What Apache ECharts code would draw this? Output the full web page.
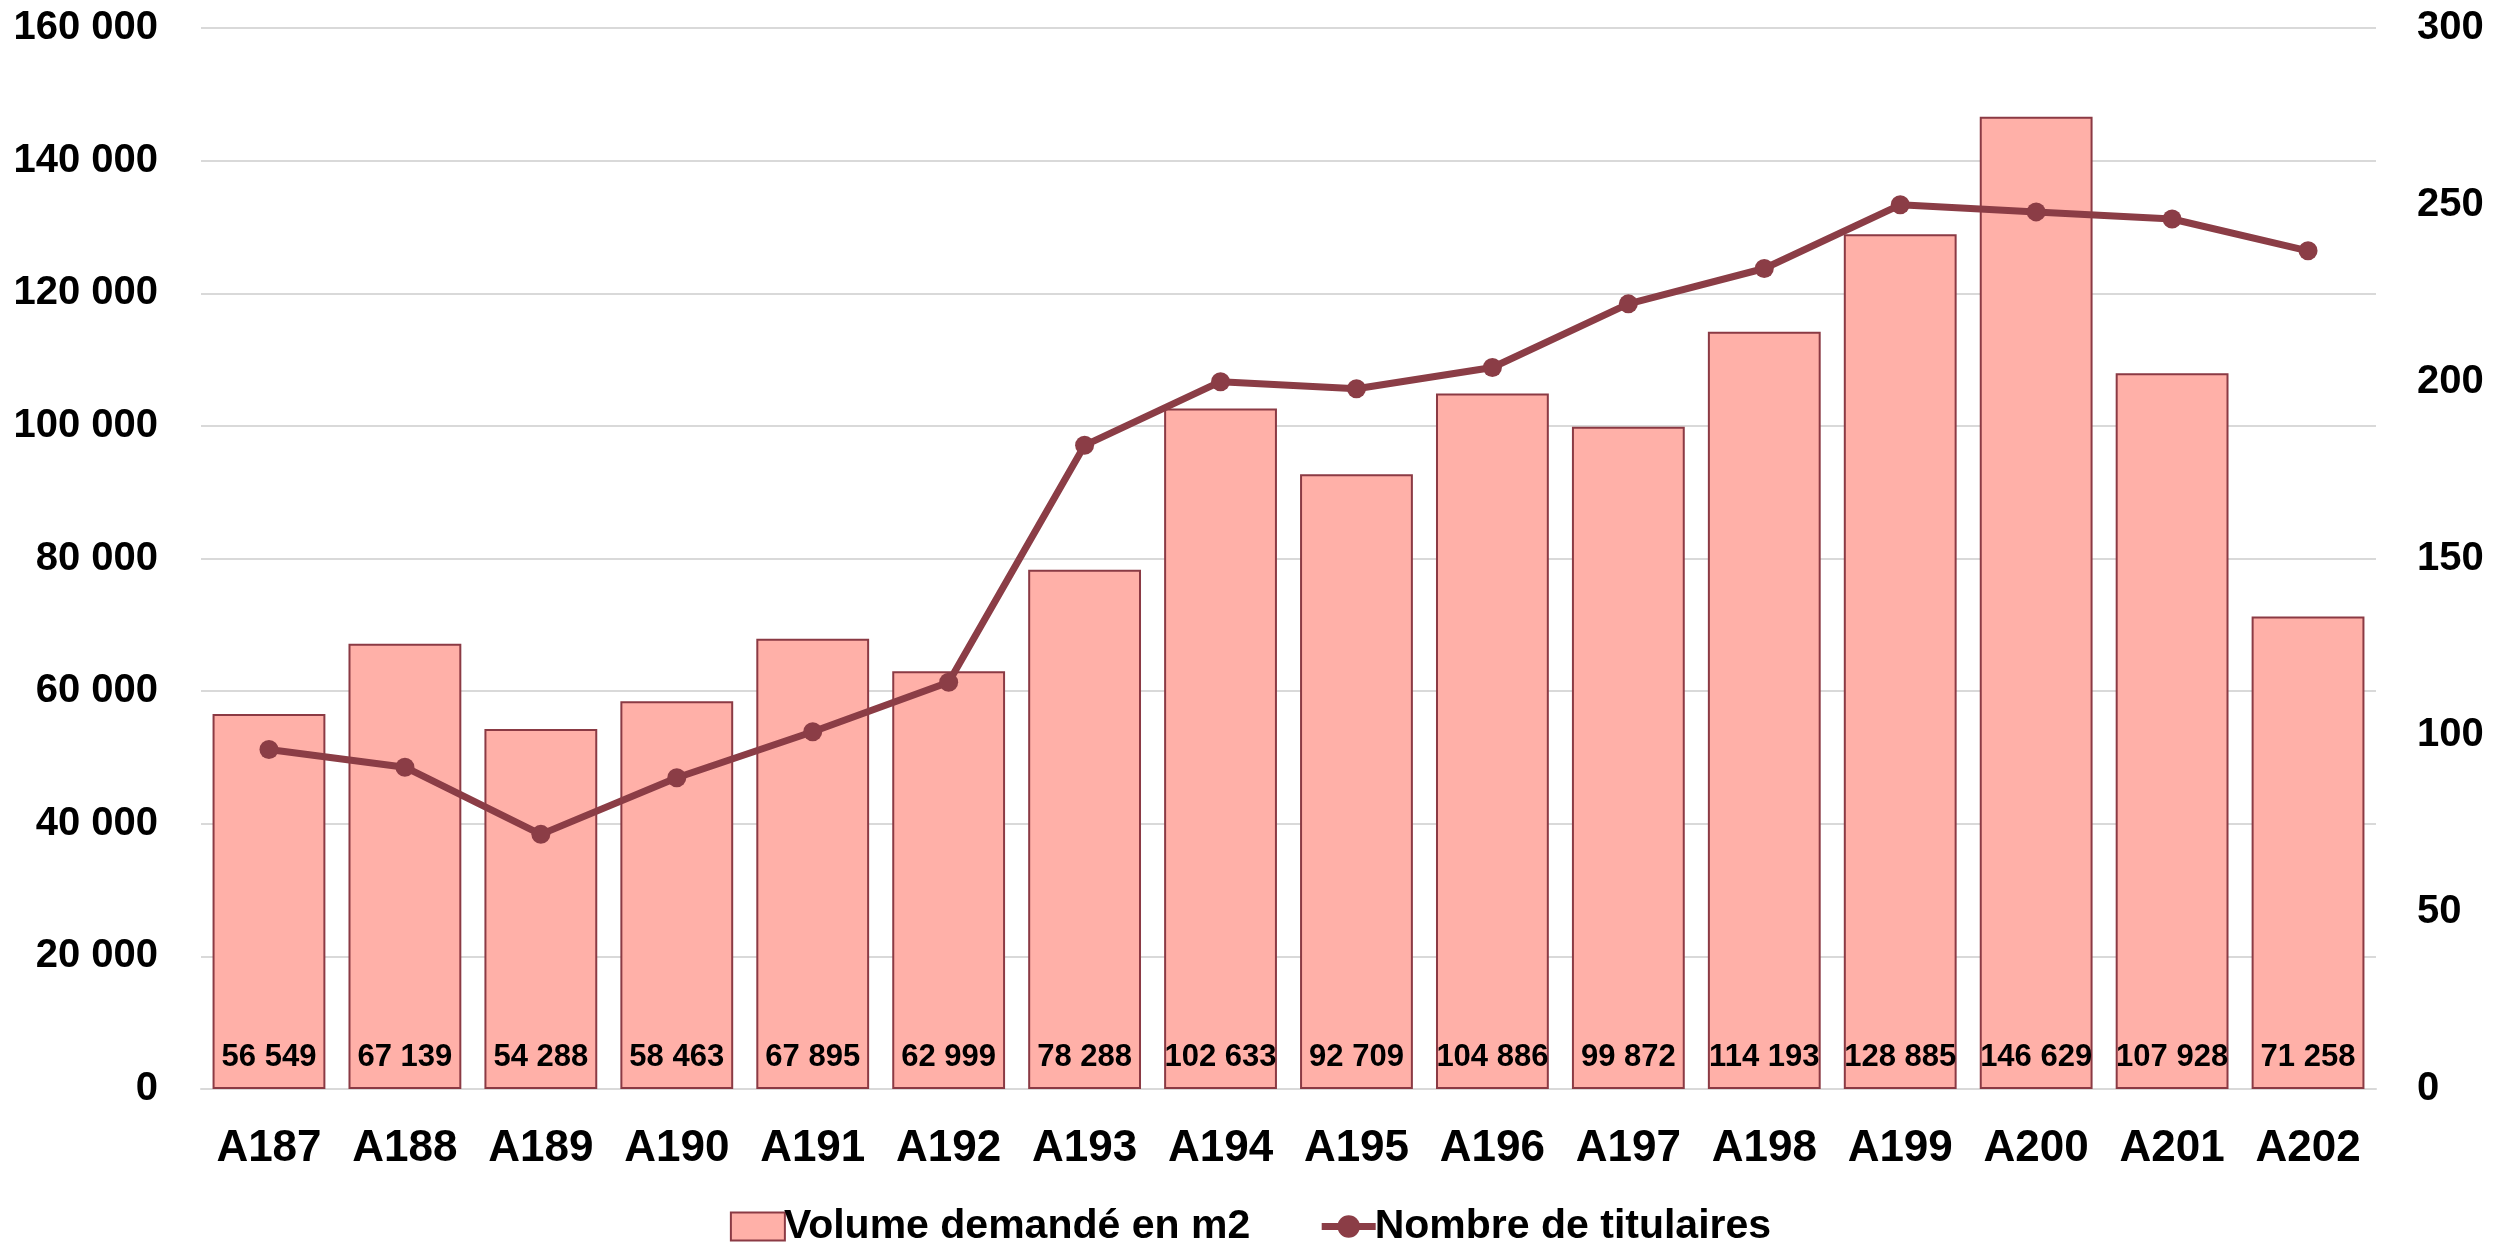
<!DOCTYPE html>
<html>
<head>
<meta charset="utf-8">
<script src="https://cdn.jsdelivr.net/npm/echarts@6/dist/echarts.min.js"></script>
<style>
html,body{margin:0;padding:0;background:#fff;}
#chart{width:2501px;height:1245px;}
</style>
</head>
<body>
<div id="chart"></div>
<script>
const categories = ['A187','A188','A189','A190','A191','A192','A193','A194','A195','A196','A197','A198','A199','A200','A201','A202'];
const volumeValues = [56549,67139,54288,58463,67895,62999,78288,102633,92709,104886,99872,114193,128885,146629,107928,71258];
const titulairesValues = [96,91,72,88,101,115,182,200,198,204,222,232,250,248,246,237];
const leftTicks = {min:0, max:160000, interval:20000};
const rightTicks = {min:0, max:300, interval:50};
const seriesNames = ['Volume demandé en m2','Nombre de titulaires'];

const FONT = '"Liberation Sans", Arial, sans-serif';
const fmt = v => String(v).replace(/\B(?=(\d{3})+(?!\d))/g, ' ');

const chart = echarts.init(document.getElementById('chart'));
chart.setOption({
  backgroundColor:'#fff',
  animation:false,
  textStyle:{fontFamily:FONT},
  grid:{left:201, right:125, top:28, bottom:156},
  legend:{
    top:1201, left:'center',
    itemGap:68, itemWidth:54, itemHeight:28,
    textStyle:{fontFamily:FONT, fontWeight:'bold', fontSize:41, color:'#000', padding:[0,0,0,-6]},
    data:[
      {name:seriesNames[0], icon:'rect'},
      {name:seriesNames[1], lineStyle:{width:7, color:'#8B3D46'}}
    ]
  },
  xAxis:{
    type:'category', data:categories,
    axisLine:{lineStyle:{color:'#D9D9D9', width:2}},
    axisTick:{show:false},
    axisLabel:{interval:0, fontFamily:FONT, fontWeight:'bold', fontSize:44, color:'#000', margin:38}
  },
  yAxis:[{
    type:'value', min:leftTicks.min, max:leftTicks.max, interval:leftTicks.interval,
    axisLine:{show:false}, axisTick:{show:false},
    splitLine:{lineStyle:{color:'#D9D9D9', width:2}},
    axisLabel:{fontFamily:FONT, fontWeight:'bold', fontSize:40, color:'#000', margin:43, formatter:fmt}
  },{
    type:'value', min:rightTicks.min, max:rightTicks.max, interval:rightTicks.interval,
    axisLine:{show:false}, axisTick:{show:false}, splitLine:{show:false},
    axisLabel:{fontFamily:FONT, fontWeight:'bold', fontSize:40, color:'#000', margin:41}
  }],
  series:[{
    name:seriesNames[0], type:'bar', data:volumeValues, yAxisIndex:0,
    barCategoryGap:'17%',
    itemStyle:{color:'#FFB0A8', borderColor:'#8B3A44', borderWidth:2},
    label:{show:true, position:'insideBottom', distance:16, formatter:p=>fmt(p.value),
      fontFamily:FONT, fontWeight:'bold', fontSize:31, color:'#000'}
  },{
    name:seriesNames[1], type:'line', data:titulairesValues, yAxisIndex:1,
    symbol:'circle', symbolSize:19,
    lineStyle:{color:'#8B3D46', width:7},
    itemStyle:{color:'#8B3D46'}
  }]
});
</script>
</body>
</html>
